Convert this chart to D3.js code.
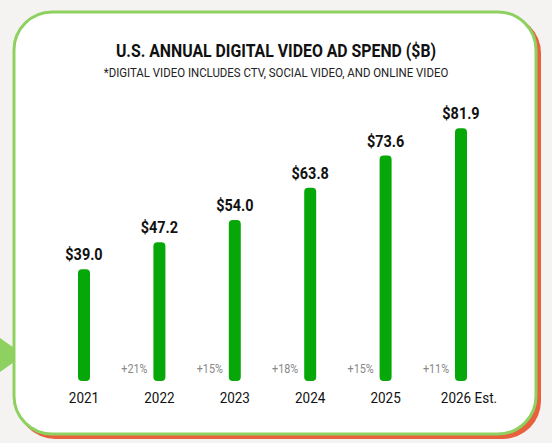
<!DOCTYPE html>
<html><head><meta charset="utf-8">
<script src="https://cdn.jsdelivr.net/npm/d3@7"></script>
<style>body{margin:0;background:#f4f3f1;font-family:Roboto,sans-serif;}</style>
</head><body>
<script>
let years = ["2021", "2022", "2023", "2024", "2025", "2026 Est."];
let spend = [39.0, 47.2, 54.0, 63.8, 73.6, 81.9];
let growth = ["", "+21%", "+15%", "+18%", "+15%", "+11%"];

let svg = d3.select("body").append("svg").attr("width", 552).attr("height", 443);

// condensed look: squeeze text horizontally around its own x
function squeeze(sel, k) {
    sel.attr("transform", function () {
        let cx = +d3.select(this).attr("x");
        return "translate(" + cx + ",0) scale(" + k + ",1) translate(" + (-cx) + ",0)";
    });
}

// background decoration
svg.append("path").attr("d", "M0,338 L24,355 L0,372 Z").attr("fill", "#8fd161");
svg.append("rect").attr("x", 17).attr("y", 15).attr("width", 524).attr("height", 424)
    .attr("rx", 38).attr("fill", "#e8603c");
svg.append("rect").attr("x", 14).attr("y", 12).attr("width", 522).attr("height", 422)
    .attr("rx", 38).attr("fill", "#fff").attr("stroke", "#8fd161").attr("stroke-width", 3);

svg.append("text").attr("x", 276).attr("y", 57).attr("text-anchor", "middle")
    .attr("font-size", 18).attr("font-weight", "bold").attr("fill", "#111")
    .text("U.S. ANNUAL DIGITAL VIDEO AD SPEND ($B)").call(squeeze, 0.88);
svg.append("text").attr("x", 276).attr("y", 77).attr("text-anchor", "middle")
    .attr("font-size", 13).attr("fill", "#222")
    .text("*DIGITAL VIDEO INCLUDES CTV, SOCIAL VIDEO, AND ONLINE VIDEO").call(squeeze, 0.88);

let x = d3.scalePoint().domain(years).range([84, 461]);
let y = d3.scaleLinear().domain([5, 82]).range([381, 128]);
let base = 381, bw = 12;

let g = svg.append("g");
g.selectAll(".bar").data(spend).enter().append("rect")
    .attr("x", (d, i) => x(years[i]) - bw / 2).attr("y", d => y(d))
    .attr("width", bw).attr("height", d => base - y(d))
    .attr("rx", 4).attr("fill", "#06a809");
g.selectAll(".val").data(spend).enter().append("text")
    .attr("x", (d, i) => x(years[i])).attr("y", d => y(d) - 9)
    .attr("text-anchor", "middle").attr("font-size", 17).attr("font-weight", "bold").attr("fill", "#111")
    .text(d => "$" + d.toFixed(1)).call(squeeze, 0.85);
g.selectAll(".yr").data(years).enter().append("text")
    .attr("x", d => x(d) + (d.length > 4 ? 8 : 0)).attr("y", 403)
    .attr("text-anchor", "middle").attr("font-size", 15).attr("fill", "#111")
    .text(d => d).call(squeeze, 0.9);
g.selectAll(".pct").data(growth).enter().append("text")
    .attr("x", (d, i) => x(years[i]) - 25).attr("y", 373)
    .attr("text-anchor", "middle").attr("font-size", 12).attr("fill", "#888")
    .text(d => d).call(squeeze, 0.9);
</script>
</body></html>
